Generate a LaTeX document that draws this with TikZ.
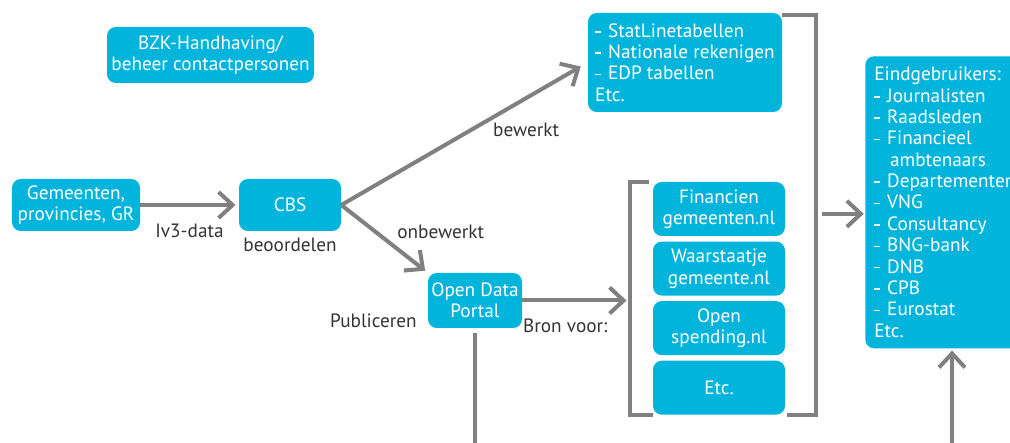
\documentclass[tikz,border=0pt]{standalone}
\usepackage{fontspec}
\setmainfont{PT Sans}
\usepackage{xcolor}
\usetikzlibrary{positioning, calc, arrows.meta}

\definecolor{cbsblauw}{RGB}{0,180,220}
\definecolor{lijngrijs}{RGB}{128,128,128}
\definecolor{tekstgrijs}{RGB}{51,51,51}

% kort streepje voor de opsommingen
\newcommand{\streep}{\rule[0.24em]{0.32em}{0.08em}\hspace{0.35em}}

\begin{document}
\begin{tikzpicture}[
    every node/.style={font=\fontsize{13.7}{15.2}\selectfont},
    blok/.style={
        rectangle,
        fill=cbsblauw,
        text=white,
        rounded corners=0.22cm,
        inner sep=0pt,
        align=center
    },
    lijst/.style={
        blok,
        align=left
    },
    tekst/.style={
        text=tekstgrijs
    },
    pijl/.style={
        -{Straight Barb[length=0.35cm, width=0.65cm]},
        draw=lijngrijs,
        line width=0.1cm
    },
    haak/.style={
        draw=lijngrijs,
        line width=0.1cm
    }
]

\useasboundingbox (0,0) rectangle (25.25,11.05);
\clip (0,0) rectangle (25.25,11.05);

% Blokken
\node[blok, minimum width=5.175cm, minimum height=1.4cm] (bzk) at (5.2625,9.675) {BZK-Handhaving/\\beheer contactpersonen};
\node[blok, minimum width=3.2cm, minimum height=1.3cm] (gemeenten) at (1.9,5.925) {Gemeenten,\\provincies, GR};
\node[blok, minimum width=2.55cm, minimum height=1.3cm] (cbs) at (7.25,5.925) {CBS};
\node[blok, minimum width=2.35cm, minimum height=1.375cm] (portal) at (11.875,3.5375) {Open Data\\Portal};

\node[lijst, minimum width=4.85cm, minimum height=2.475cm] (statline) at (17.125,9.4875)
    {\streep StatLinetabellen\\\streep Nationale rekenigen\\\streep EDP tabellen\\Etc.};

\node[blok, minimum width=3.3cm, minimum height=1.35cm] (fin) at (17.975,5.825) {Financien\\gemeenten.nl};
\node[blok, minimum width=3.3cm, minimum height=1.35cm, below=0.125cm of fin] (waar) {Waarstaatje\\gemeente.nl};
\node[blok, minimum width=3.3cm, minimum height=1.35cm, below=0.125cm of waar] (open) {Open\\spending.nl};
\node[blok, minimum width=3.3cm, minimum height=1.35cm, below=0.125cm of open] (etc) {Etc.};

\node[lijst, inner xsep=0.225cm, text width=4cm, minimum height=7.3cm, anchor=north west] (eind) at (21.625,9.65)
    {Eindgebruikers:\\\streep Journalisten\\\streep Raadsleden\\\streep Financieel\\\hspace*{0.82em}ambtenaars\\\streep Departementen\\\streep VNG\\\streep Consultancy\\\streep BNG-bank\\\streep DNB\\\streep CPB\\\streep Eurostat\\Etc.};

% Teksten
\node[tekst, below=0.05cm of cbs] (beoordelen) {beoordelen};
\node[tekst, below left=0.21cm and 0.15cm of portal.west] (publiceren) {Publiceren};

% Hulppunten
\coordinate (haakL) at ([xshift=-0.575cm]fin.north west);
\coordinate (haakR) at ([xshift=0.775cm]etc.south east);
\coordinate (haakRmid) at ($(haakR |- statline.north)!0.5!(haakR)$);
\coordinate (portalonder) at ($(portal.south)+(0,-4)$);
\coordinate (eindonder) at (23.8,-0.5);

% Haken
\draw[haak] ([xshift=-0.1cm]fin.north west) -| (haakL |- etc.south) -- (etc.south west);
\draw[haak] ([yshift=-0.05cm]statline.north east) -| (haakR) -- ([xshift=0.05cm]etc.south east);

% Pijlen
\draw[pijl, shorten >=0.08cm] (gemeenten) -- node[tekst, below=0.3cm] {Iv3-data} (cbs);
\draw[pijl, shorten >=0.2cm] (cbs.east) -- node[tekst, pos=0.75, below=0.45cm] {bewerkt} (statline.west);
\draw[pijl, shorten >=0.08cm] (cbs.east) -- node[tekst, pos=0.4, right=0.37cm] {onbewerkt} (portal.north west);
\draw[pijl, shorten >=0.08cm] (portal.east) -- node[tekst, pos=0.4, below=0.3cm] {Bron voor:} (portal.east -| haakL);
\draw[pijl, shorten <=0.15cm, shorten >=0.03cm] (haakRmid) -- (haakRmid -| eind.west);
\draw[haak, shorten <=0.125cm] (portal.south) -- (portalonder);
\draw[pijl, shorten >=0.05cm] (eindonder) -- (eindonder |- eind.south);

\end{tikzpicture}
\end{document}
